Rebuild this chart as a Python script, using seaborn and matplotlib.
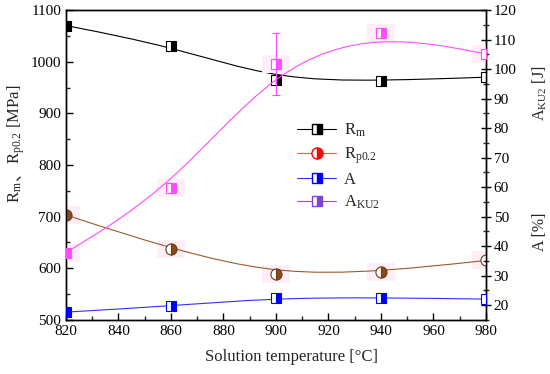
import numpy as np
import seaborn as sns
import matplotlib.pyplot as plt
from matplotlib.lines import Line2D
from matplotlib.path import Path
from matplotlib.patches import PathPatch
from matplotlib.ticker import MultipleLocator

# values
temps = [820, 860, 900, 940, 980]
rm = [1070, 1030, 965, 963, 970]          # MPa, left axis
rp02 = [703, 637, 588, 593, 615]          # MPa, left axis
elong = [17.6, 19.7, 22.4, 22.5, 22.0]    # %, right axis
aku2 = [37.8, 59.6, 101.6, 112.1, 105.1]  # J, right axis
aku2_err = [0.8, 1.6, 10.5, 1.0, 1.0]


def bspline_path(xs, ys):
    # Origin-style "B-spline" connection: the data points are the control
    # points of a uniform cubic B-spline (ends repeated so it starts/ends on
    # the first/last point); each span is handed to matplotlib as a Bezier.
    pts = np.column_stack([xs, ys]).astype(float)
    pts = np.vstack([pts[:1], pts[:1], pts, pts[-1:], pts[-1:]])
    verts, codes = [], []
    for i in range(len(pts) - 3):
        a, b, c, d = pts[i:i + 4]
        b0 = (a + 4 * b + c) / 6
        if not verts:
            verts.append(b0)
            codes.append(Path.MOVETO)
        verts += [(4 * b + 2 * c) / 6, (2 * b + 4 * c) / 6, (b + 4 * c + d) / 6]
        codes += [Path.CURVE4] * 3
    return Path(verts, codes)


sns.set_theme(style='ticks')
plt.rcParams['font.family'] = ['Liberation Serif', 'Noto Sans CJK SC']
plt.rcParams['mathtext.fontset'] = 'custom'
plt.rcParams['mathtext.rm'] = 'Liberation Serif'
plt.rcParams['mathtext.it'] = 'Liberation Serif:italic'
plt.rcParams['axes.linewidth'] = 1.0

fig = plt.figure(figsize=(5.5, 3.74), dpi=100)
ax = fig.add_axes([0.12, 0.145, 0.7636, 0.828])
ax2 = ax.twinx()

brown = '#9c5a2c'
magenta = '#ff4cff'
ms = 7
halo = [(-1.5, -1), (1.5, -1), (1.5, 1), (-1.5, 1), (-1.5, -1)]

# faint pink halo behind some markers
ax.plot(temps, rp02, marker=halo, ls='none', ms=20, color='#fdeef8', mew=0, zorder=1)
ax2.plot(temps, aku2, marker=halo, ls='none', ms=20, color='#fdeef8', mew=0, zorder=1)

# smooth connecting curves
for a, ys, col in [(ax, rm, 'black'), (ax, rp02, brown), (ax2, elong, '#3030ff'),
                   (ax2, aku2, magenta)]:
    a.add_patch(PathPatch(bspline_path(temps, ys), fill=False, edgecolor=col, lw=0.8,
                          zorder=3))

ax.plot(temps, rm, 's', ls='none', ms=ms, color='black', mfc='black', mfcalt='white',
        fillstyle='right', mew=0.8, zorder=4)
ax.plot(temps, rp02, 'o', ls='none', ms=ms + 1, color=brown, mec='#6b3a16', mfc='#8b4a1c',
        mfcalt='white', fillstyle='right', mew=0.8, zorder=4)
ax2.plot(temps, elong, 's', ls='none', ms=ms, color='blue', mfc='blue', mfcalt='white',
         fillstyle='right', mew=0.8, zorder=4)
ax2.errorbar(temps, aku2, yerr=aku2_err, fmt='none', ecolor=magenta, elinewidth=0.8,
             capsize=3, capthick=0.8, zorder=4)
ax2.plot(temps, aku2, 's', ls='none', ms=ms, color=magenta, mfc=magenta, mfcalt='white',
         fillstyle='right', mew=0.8, zorder=5)

ax.set_xlim(820, 980)
ax.set_ylim(500, 1100)
ax2.set_ylim(15, 120)
ax.xaxis.set_major_locator(MultipleLocator(20))
ax.xaxis.set_minor_locator(MultipleLocator(10))
ax.yaxis.set_major_locator(MultipleLocator(100))
ax.yaxis.set_minor_locator(MultipleLocator(50))
ax2.yaxis.set_minor_locator(MultipleLocator(5))
ax2.set_yticks(range(20, 121, 10))

ax.tick_params(axis='both', which='major', direction='in', length=5, width=1,
               labelsize=11, colors='black', top=False)
ax.tick_params(axis='both', which='minor', direction='in', length=3, width=1, top=False)
ax2.tick_params(axis='y', which='major', direction='inout', length=7, width=1,
                labelsize=11, colors='black', pad=2)
ax2.tick_params(axis='y', which='minor', direction='inout', length=4, width=1)
for a in (ax, ax2):
    for sp in a.spines.values():
        sp.set_visible(True)
        sp.set_color('black')

ax.set_xlabel('Solution temperature [\u00b0C]', fontsize=12)
ax.xaxis.set_label_coords(0.536, -0.095)

handles = [
    Line2D([], [], color='black', marker='s', ms=ms, mfc='black', mfcalt='white',
           fillstyle='right', lw=0.8),
    Line2D([], [], color='#ff5050', marker='o', ms=ms + 1, mfc='red', mec='red',
           mfcalt='white', fillstyle='right', lw=0.8),
    Line2D([], [], color='#3030ff', marker='s', ms=ms, mfc='blue', mec='blue',
           mfcalt='white', fillstyle='right', lw=0.8),
    Line2D([], [], color='#9050e0', marker='s', ms=ms, mfc='#8040e0', mec='#8040e0',
           mfcalt='white', fillstyle='right', lw=0.8),
]
labels = ['R$_\\mathrm{m}$', 'R$_\\mathrm{p0.2}$', 'A', 'A$_\\mathrm{KU2}$']
ax2.legend(handles, labels, loc='upper left', bbox_to_anchor=(0.535, 0.66), frameon=False,
           fontsize=12, handlelength=2.3, handletextpad=0.5, labelspacing=0.35,
           borderaxespad=0)

# right-hand labels
fig.text(0.982, 0.75, 'A$_\\mathrm{KU2}$ [J]', rotation=90, ha='center', va='center',
         fontsize=11.5)
fig.text(0.982, 0.38, 'A [%]', rotation=90, ha='center', va='center', fontsize=11.5)

# left label, built piece by piece so the CJK comma gets a font that has it
fig.canvas.draw()
renderer = fig.canvas.get_renderer()
pieces = [('R$_\\mathrm{m}$', ['Liberation Serif']), ('\u3001', ['Noto Sans CJK SC']),
          ('R$_\\mathrm{p0.2}$ [MPa]', ['Liberation Serif'])]
ypos = 0.458
for s, fam in pieces:
    t = fig.text(0.036, ypos, s, rotation=90, rotation_mode='anchor', ha='left',
                 va='baseline', fontsize=12, family=fam)
    bb = t.get_window_extent(renderer)
    ypos += bb.height / fig.bbox.height

fig.savefig('out.png', dpi=100)
